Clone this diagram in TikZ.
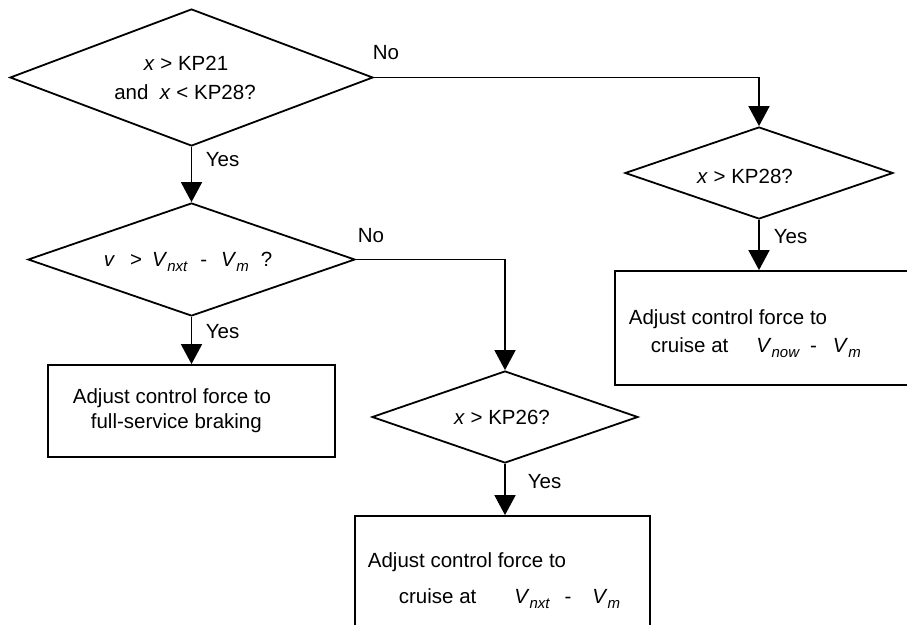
\documentclass[tikz,border=0pt]{standalone}
\usepackage{fontspec}
\setmainfont{Liberation Sans}
\usetikzlibrary{shapes.geometric,arrows.meta}
\newcommand{\sbs}[1]{\raisebox{-0.28em}{\fontsize{15}{15}\selectfont\itshape #1}}
\begin{document}
\begin{tikzpicture}[x=1pt,y=-1pt,
  line width=1.8pt,
  dia/.style={draw,diamond,inner sep=0pt},
  box/.style={draw,rectangle,inner sep=0pt},
  txt/.style={font=\fontsize{20.5}{24}\selectfont,inner sep=0pt},
  arr/.style={-{Triangle[length=20pt,width=21pt]}}]
\useasboundingbox (0,0) rectangle (907,624);
\fill[white] (0,0) rectangle (907,624);
\clip (0,0) rectangle (907,624);

% decisions
\node[dia,minimum width=363pt,minimum height=137pt] (d1) at (191.5,77.5) {};
\node[dia,minimum width=327pt,minimum height=113pt] (d2) at (191.5,259.5) {};
\node[dia,minimum width=266pt,minimum height=92pt] (d3) at (505,417) {};
\node[dia,minimum width=268pt,minimum height=92pt] (d4) at (759,173) {};

% actions
\node[box,minimum width=287pt,minimum height=92pt] (b1) at (191.5,411) {};
\node[box,minimum width=345pt,minimum height=114pt] (b2) at (787.5,328) {};
\node[box,minimum width=295pt,minimum height=164pt] (b3) at (502.5,598) {};

% connectors
\draw[arr] (d1.south) -- (d2.north);
\draw[arr] (d2.south) -- (d2.south |- b1.north);
\draw[arr] (d1.east) -| (d4.north);
\draw[arr] (d2.east) -| (d3.north);
\draw[arr] (d3.south) -- (d3.south |- b3.north);
\draw[arr] (d4.south) -- (d4.south |- b2.north);

% texts in decisions
\node[txt,anchor=base] (t1a) at (186,70) {\textit{x} > KP21};
\node[txt,anchor=base] (t1b) at (185,99) {and\ \ \textit{x} < KP28?};
\node[txt,anchor=base west] (t2) at (103,266) {\textit{v}\hspace{15pt}>\hspace{10pt}\textit{V}\sbs{nxt}\hspace{13pt}-\hspace{14pt}\textit{V}\sbs{m}\hspace{12pt}?};
\node[txt,anchor=base] (t3) at (502,424) {\textit{x} > KP26?};
\node[txt,anchor=base] (t4) at (745,183) {\textit{x} > KP28?};

% texts in actions
\node[txt,anchor=base west] (b1a) at (72,403) {Adjust control force to};
\node[txt,anchor=base west] (b1b) at (90,428) {full-service braking};
\node[txt,anchor=base west] (b2a) at (628,324) {Adjust control force to};
\node[txt,anchor=base west] (b2b) at (650,352) {cruise at\hspace{28pt}\textit{V}\sbs{now}\hspace{11pt}-\hspace{16pt}\textit{V}\sbs{m}};
\node[txt,anchor=base west] (b3a) at (367,567) {Adjust control force to};
\node[txt,anchor=base west] (b3b) at (398,603) {cruise at\hspace{38pt}\textit{V}\sbs{nxt}\hspace{15pt}-\hspace{21pt}\textit{V}\sbs{m}};

% branch labels
\node[txt] (n1) at (386,53) {No};
\node[txt,anchor=west] (y1) at (205,160) {Yes};
\node[txt,anchor=west] (n2) at (357,236) {No};
\node[txt,anchor=west] (y2) at (205,332) {Yes};
\node[txt,anchor=west] (y3) at (527,482) {Yes};
\node[txt,anchor=west] (y4) at (773,237) {Yes};
\end{tikzpicture}
\end{document}
